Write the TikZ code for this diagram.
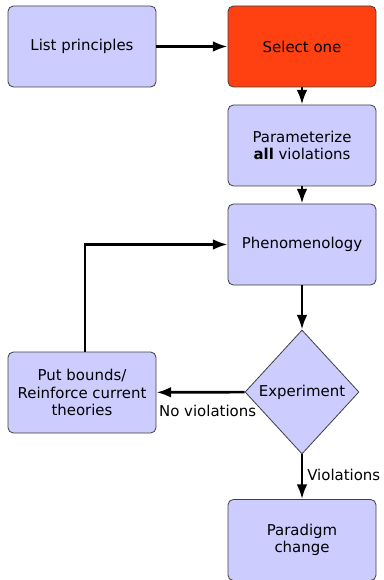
\documentclass[tikz,border=0pt]{standalone}
\usepackage{fontspec}
\setmainfont{DejaVu Sans}
\usetikzlibrary{shapes.geometric,arrows.meta}
\definecolor{boxblue}{RGB}{204,204,255}
\definecolor{boxred}{RGB}{255,64,16}
\begin{document}
\begin{tikzpicture}[x=0.75pt,y=-0.75pt,
  every node/.style={font=\fontsize{11.2}{13}\selectfont, align=center},
  stepbox/.style={draw=black!75, line width=0.6pt, rectangle, rounded corners=4pt, fill=boxblue, minimum width=111pt, minimum height=60.75pt},
  choice/.style={draw=black!75, line width=0.6pt, diamond, fill=boxblue, inner sep=0pt, minimum width=85.5pt, minimum height=93pt},
  flow/.style={line width=2pt, -{Latex[length=11pt,width=8pt]}}]
\useasboundingbox (0,0) rectangle (383,580);

\node[stepbox] (lp) at (82,46.5) {List principles};
\node[stepbox, fill=boxred] (sel) at (302,46.5) {Select one};
\node[stepbox] (par) at (302,145.5) {Parameterize\\ \textbf{all} violations};
\node[stepbox] (phen) at (302,244.5) {Phenomenology};
\node[choice] (exp) at (302,392) {Experiment};
\node[stepbox] (bnd) at (82,392.5) {Put bounds/\\Reinforce current\\theories};
\node[stepbox] (para) at (302,540) {Paradigm\\change};

\path[flow] (lp) edge (sel);
\path[flow] (sel) edge (par);
\path[flow] (par) edge (phen);
\path[flow] (phen) edge (exp);
\path[flow] (exp) edge node[below=7pt, pos=0.42, inner sep=2pt] {No violations} (bnd);
\path[flow] (exp) edge node[right, pos=0.45, inner sep=3pt] {Violations} (para);
\draw[flow] ([xshift=2.25pt]bnd.north) |- (phen.west);
\end{tikzpicture}
\end{document}
